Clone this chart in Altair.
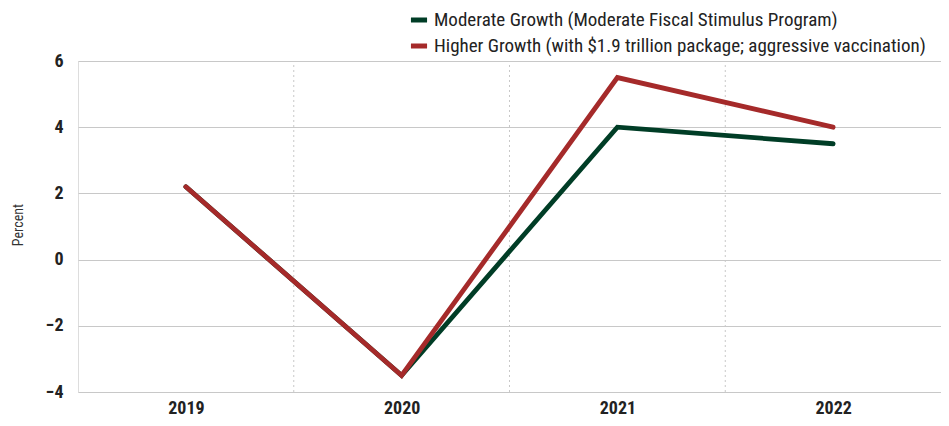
import altair as alt
import pandas as pd

years = [2019, 2020, 2021, 2022]
moderate = [2.2, -3.5, 4.0, 3.5]
higher = [2.2, -3.5, 5.5, 4.0]
series_names = [
    "Moderate Growth (Moderate Fiscal Stimulus Program)",
    "Higher Growth (with $1.9 trillion package; aggressive vaccination)",
]
colors = ["#003d26", "#a52a2a"]
dividers = [2019.5, 2020.5, 2021.5]

rows = []
for y, v in zip(years, moderate):
    rows.append({"year": y, "value": v, "series": series_names[0], "order": 0})
for y, v in zip(years, higher):
    rows.append({"year": y, "value": v, "series": series_names[1], "order": 1})
df = pd.DataFrame(rows)
div_df = pd.DataFrame({"x": dividers})

FONT = "Roboto Condensed, Liberation Sans Narrow, Arial Narrow, DejaVu Sans Condensed, sans-serif"
W, H = 863, 331

xscale = alt.Scale(domain=[2018.5, 2022.5], nice=False, zero=False)
yscale = alt.Scale(domain=[-4, 6], nice=False, zero=False)

rules = alt.Chart(div_df).mark_rule(color="#c8c8c8", strokeDash=[2, 3], strokeWidth=1).encode(
    x=alt.X("x:Q", scale=xscale),
    y=alt.value(4),
    y2=alt.value(H),
)

lines = alt.Chart(df).mark_line(strokeWidth=4.8, strokeCap="round", strokeJoin="miter").encode(
    x=alt.X(
        "year:Q",
        scale=xscale,
        axis=alt.Axis(
            values=years, format="d", title=None, grid=False, domain=False, ticks=False,
            labelFontSize=18, labelFontWeight="bold", labelFont=FONT, labelColor="#222",
            labelPadding=21, labelBaseline="alphabetic",
        ),
    ),
    y=alt.Y(
        "value:Q",
        scale=yscale,
        axis=alt.Axis(
            values=[-4, -2, 0, 2, 4, 6], title="Percent", grid=True, gridColor="#c8c8c8",
            gridWidth=1, domain=False, ticks=False, labelFontSize=18, labelFontWeight="bold",
            labelFont=FONT, labelColor="#222", labelPadding=15,
            titleFont=FONT, titleFontSize=14, titleFontWeight="normal", titleColor="#333",
            titleX=-60, titleY=H / 2 - 2, titleAngle=-90, titleAlign="center", titleBaseline="middle",
        ),
    ),
    color=alt.Color(
        "series:N",
        scale=alt.Scale(domain=series_names, range=colors),
        legend=alt.Legend(
            title=None, orient="none", legendX=330, legendY=-52, direction="vertical",
            symbolType="stroke", symbolStrokeWidth=5, symbolSize=260, labelFont=FONT,
            labelFontSize=19, labelColor="#222", rowPadding=5, labelOffset=4, labelLimit=700,
        ),
    ),
    order=alt.Order("order:Q"),
    detail="series:N",
)

chart = (
    alt.layer(rules, lines)
    .properties(
        width=W, height=H,
        padding={"left": 70, "top": 53, "right": 0, "bottom": 26},
        autosize=alt.AutoSizeParams(type="none"),
    )
    .configure_view(stroke=None)
    .configure(background="white")
)

chart.save("out.html", embed_options={"renderer": "svg", "actions": False})
